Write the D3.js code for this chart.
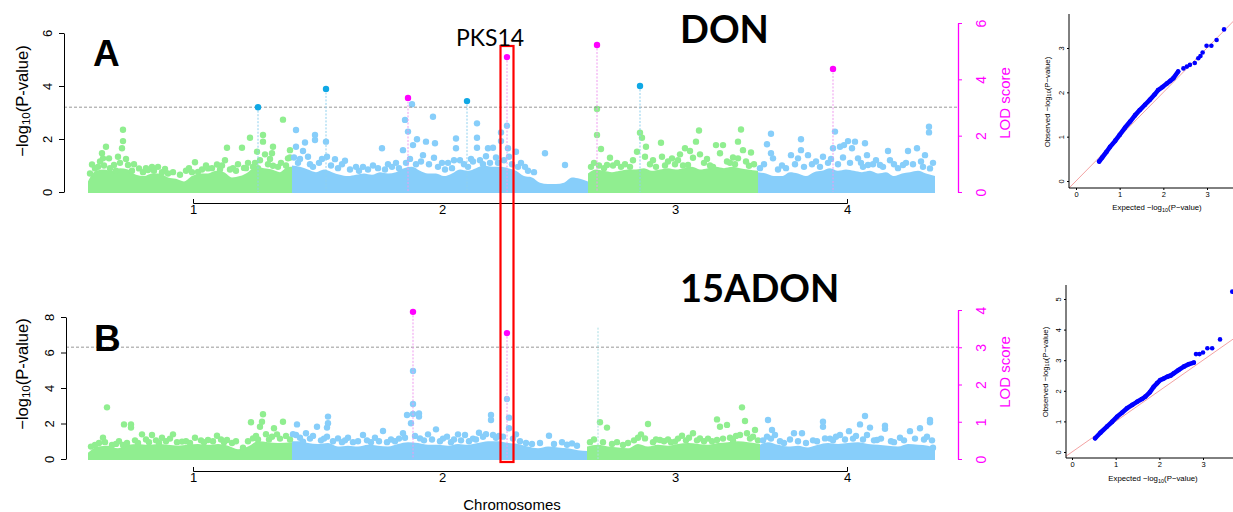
<!DOCTYPE html>
<html>
<head>
<meta charset="utf-8">
<script src="https://cdn.jsdelivr.net/npm/d3@7"></script>
<style>
  body { margin: 0; background: #fff; }
  svg { display: block; font-family: "Liberation Sans", Arial, sans-serif; }
</style>
</head>
<body>
<svg id="chart" width="1233" height="512"></svg>
<script>
// ---------- data ----------
var chromColors = ["#90EE90", "#87CEFA", "#90EE90", "#87CEFA"];
var chromEndA = [204, 500, 670, 847];
var chromEndB = [204, 499, 672, 847];
var chromTickPos = [105, 354, 587, 759];
var chromLabels = ["1", "2", "3", "4"];
var pksPos = 419;

// dense low-value cloud (upper edge), one list per chromosome: [position, -log10 p]
var envA = [
  [[0,0.4],[8,0.8],[16,0.85],[24,0.8],[32,0.9],[40,0.85],[48,0.65],[56,0.6],[64,0.7],[72,0.7],[80,0.55],[88,0.5],[96,0.4],[104,0.6],[112,0.7],[120,0.7],[128,0.8],[136,0.75],[144,0.55],[152,0.6],[160,0.75],[168,0.95],[176,0.9],[184,0.85],[192,0.75],[200,0.95],[204,0.95]],
  [[204,1.0],[212,0.95],[220,0.85],[228,0.75],[236,0.85],[244,0.75],[252,0.65],[260,0.6],[268,0.65],[276,0.7],[284,0.65],[292,0.75],[300,0.7],[308,0.75],[316,0.9],[324,0.95],[332,0.8],[340,0.7],[348,0.7],[356,0.6],[364,0.7],[372,0.85],[380,0.8],[388,0.9],[396,1.0],[404,0.95],[412,0.95],[420,0.9],[428,0.8],[436,0.6],[444,0.55],[452,0.35],[460,0.3],[468,0.3],[476,0.35],[484,0.55],[492,0.5],[500,0.4]],
  [[500,0.7],[508,0.85],[516,0.8],[524,0.75],[532,0.8],[540,0.85],[548,0.85],[556,0.9],[564,0.8],[572,0.85],[580,0.9],[588,0.85],[596,0.9],[604,0.95],[612,0.85],[620,0.9],[628,0.95],[636,0.9],[644,0.95],[652,0.9],[660,0.85],[670,0.8]],
  [[670,0.75],[678,0.7],[686,0.6],[694,0.6],[702,0.75],[710,0.7],[718,0.6],[726,0.75],[734,0.8],[742,0.9],[750,0.8],[758,0.85],[766,0.8],[774,0.75],[782,0.8],[790,0.7],[798,0.75],[806,0.6],[814,0.7],[822,0.75],[830,0.8],[838,0.7],[847,0.6]]
];
var envB = [
  [[0,0.35],[10,0.7],[20,0.75],[30,0.6],[40,0.8],[50,0.85],[60,0.8],[70,0.85],[80,0.8],[90,0.75],[100,0.8],[110,0.85],[120,0.8],[130,0.85],[140,0.75],[150,0.55],[160,0.7],[170,1.0],[180,0.95],[190,0.9],[204,0.95]],
  [[204,1.0],[212,1.0],[220,0.9],[230,0.85],[240,0.9],[250,0.7],[260,0.75],[270,0.7],[280,0.8],[290,0.75],[300,0.7],[310,0.85],[320,0.95],[330,0.9],[340,0.8],[350,0.8],[360,0.75],[370,0.85],[380,0.8],[390,0.9],[400,1.0],[410,1.0],[420,0.9],[430,0.85],[440,0.7],[450,0.6],[460,0.7],[470,0.65],[480,0.6],[490,0.5],[499,0.45]],
  [[499,0.7],[510,0.8],[520,0.7],[530,0.65],[540,0.6],[550,0.85],[560,0.7],[570,0.8],[580,0.75],[590,0.85],[600,0.9],[610,0.85],[620,0.8],[630,0.9],[640,0.95],[650,1.0],[660,0.95],[672,0.85]],
  [[672,0.8],[680,0.95],[690,0.8],[700,0.7],[710,0.75],[720,0.65],[730,0.8],[740,0.9],[750,0.85],[760,0.9],[770,0.95],[780,0.85],[790,0.8],[800,0.75],[810,0.7],[820,0.85],[830,0.8],[840,0.75],[847,0.6]]
];

// scattered SNPs above the cloud: [position, -log10 p]
var snpsA = [
  [4,1.04],[7,0.89],[12,1.15],[14,1.46],[15,1.27],[18,1.71],[21,1.27],[26,1.02],[30,1.33],[34,1.65],[35,1.92],[35,2.35],[38,1.25],[40,1.02],[51,0.89],[60,0.83],[64,0.95],[70,0.95],[77,0.87],[85,0.75],[107,1.12],[110,0.76],[120,0.89],[129,1.04],[137,1.2],[139,1.67],[145,0.9],[154,1.67],[156,0.91],[162,2.05],[165,0.95],[169,1.52],[172,1.2],[175,1.9],[175,2.15],[177,1.42],[184,1.46],[185,1.71],[185,0.99],[195,2.73],[200,1.27],[202,1.58],
  [2,0.7],[10,0.95],[16,1.0],[22,0.9],[28,0.8],[32,1.1],[44,0.8],[46,1.05],[55,0.75],[58,0.9],[66,0.8],[74,0.75],[80,0.7],[92,0.65],[98,0.8],[101,0.9],[104,0.75],[114,0.85],[118,1.0],[124,0.9],[132,0.85],[134,1.0],[142,0.85],[148,0.8],[150,1.05],[158,0.9],[160,1.1],[167,1.1],[170,0.9],[180,1.05],[182,1.25],[190,0.95],[193,1.1],[198,1.0],[202,1.3],
  [208,2.34],[208,1.71],[215,1.55],[217,1.87],[220,1.33],[227,1.96],[227,2.15],[238,1.9],[239,1.33],[247,1.24],[257,1.18],[275,0.95],[285,1.0],[294,1.65],[300,1.05],[315,1.58],[317,2.72],[320,2.28],[324,3.31],[325,1.77],[329,1.99],[335,1.39],[338,1.9],[345,2.84],[346,1.29],[347,1.84],[360,1.1],[368,1.65],[368,2.02],[372,1.2],[385,1.15],[389,1.67],[389,2.05],[389,2.59],[400,1.65],[405,1.67],[413,1.92],[413,2.25],[419,2.5],[420,1.65],[421,1.33],[428,1.52],[437,0.95],[457,1.46],[477,1.02],
  [206,1.3],[210,1.1],[212,1.25],[222,1.05],[225,0.95],[231,1.1],[234,1.25],[243,1.0],[250,0.9],[254,1.05],[262,0.85],[268,0.95],[271,0.8],[280,0.85],[290,0.9],[297,0.85],[304,0.95],[308,1.1],[311,0.9],[318,1.1],[322,1.25],[328,1.05],[333,1.15],[341,1.05],[350,0.95],[354,1.1],[357,0.85],[364,0.9],[366,1.2],[376,1.05],[380,0.95],[383,1.25],[392,1.2],[395,1.05],[398,1.35],[402,1.1],[408,1.3],[410,1.1],[416,1.2],[424,1.05],[430,0.95],[433,1.1],[440,0.8],[446,0.75],
  [509,3.13],[509,2.15],[513,1.62],[519,1.02],[522,1.29],[549,1.52],[552,2.24],[554,2.05],[557,1.33],[558,1.71],[573,1.86],[574,1.33],[584,1.27],[592,1.42],[597,1.65],[600,1.02],[602,1.55],[605,1.29],[608,1.9],[611,2.32],[612,1.42],[625,0.95],[628,1.77],[632,1.46],[635,1.77],[639,1.15],[650,1.9],[650,1.27],[653,2.36],[655,1.58],[661,0.99],[663,1.49],
  [503,0.95],[506,1.1],[511,1.0],[516,0.9],[525,1.0],[529,1.1],[533,0.95],[537,1.05],[542,0.95],[545,1.2],[562,1.05],[565,1.2],[568,0.95],[577,1.0],[580,1.15],[587,1.05],[590,1.2],[595,1.0],[616,1.1],[619,1.25],[622,1.0],[642,1.1],[645,1.3],[647,1.05],[658,1.15],[666,1.05],
  [679,1.8],[683,2.2],[683,1.46],[685,1.27],[703,1.39],[710,1.27],[713,1.99],[713,1.58],[720,1.39],[735,1.33],[745,1.65],[747,2.28],[752,1.71],[756,1.77],[760,1.92],[764,1.65],[767,1.9],[770,1.27],[777,1.84],[779,1.39],[780,1.02],[792,1.02],[800,1.55],[802,1.2],[815,1.02],[820,1.55],[829,1.65],[837,1.39],[841,2.25],[841,2.46],[842,0.89],
  [672,0.9],[676,1.05],[690,0.85],[694,1.0],[698,0.9],[707,1.05],[716,0.95],[724,1.05],[728,1.15],[732,0.95],[740,1.1],[743,1.25],[750,1.05],[755,1.3],[762,1.1],[773,1.1],[775,0.95],[785,1.05],[788,1.2],[795,0.95],[806,1.05],[810,0.9],[818,1.1],[825,1.05],[833,1.15],[835,0.95],[845,1.1]
];
var snpsB = [
  [7,0.79],[15,1.2],[19,2.91],[24,0.79],[35,0.79],[36,1.95],[43,1.95],[43,1.77],[54,1.39],[64,1.35],[74,1.2],[85,1.39],[94,0.98],[107,1.2],[120,1.07],[129,1.31],[139,1.07],[155,0.64],[163,2.07],[165,1.16],[172,1.82],[174,2.1],[175,2.52],[186,1.73],[189,1.39],[195,2.1],
  [3,0.7],[11,0.9],[17,0.95],[28,0.85],[31,1.0],[39,0.9],[47,1.05],[50,0.9],[58,1.1],[61,0.95],[68,1.05],[71,0.9],[78,1.0],[82,1.15],[89,0.95],[98,1.0],[102,0.9],[113,1.05],[116,0.95],[125,1.0],[133,1.1],[136,0.95],[144,0.9],[148,1.0],[160,1.0],[168,1.3],[170,1.1],[178,1.4],[181,1.1],[184,1.25],[192,1.15],[198,1.3],[202,1.1],
  [208,1.35],[209,1.95],[215,0.98],[218,1.45],[229,1.82],[239,1.26],[239,1.77],[240,2.01],[240,2.39],[250,1.16],[260,1.2],[275,1.35],[287,1.2],[295,1.58],[315,1.45],[319,2.48],[323,2.01],[325,2.54],[325,3.1],[325,4.96],[331,2.56],[331,2.39],[332,1.16],[340,1.39],[348,1.67],[359,1.26],[370,1.39],[377,1.35],[391,1.48],[403,2.48],[403,2.2],[405,1.35],[415,1.26],[419,3.38],[421,2.33],[421,1.73],[428,1.39],[461,1.31],[474,0.94],[484,0.88],
  [205,1.4],[212,1.2],[222,1.15],[225,1.3],[233,1.05],[236,1.15],[245,1.0],[254,0.95],[257,1.05],[265,0.95],[270,1.0],[279,1.05],[283,0.95],[291,1.0],[299,0.95],[303,1.1],[307,1.0],[311,1.15],[317,1.2],[327,1.3],[336,1.05],[344,1.1],[352,1.0],[355,1.15],[363,0.95],[366,1.1],[373,1.05],[381,1.0],[385,1.15],[388,1.1],[395,1.25],[398,1.4],[408,1.2],[411,1.3],[425,1.15],[432,1.0],[438,0.9],[444,0.85],[452,0.9],[466,0.85],[479,0.8],[489,0.75],
  [512,2.07],[519,1.77],[535,0.79],[553,1.39],[557,1.16],[560,1.97],[572,1.07],[587,0.98],[594,1.31],[605,1.45],[612,1.16],[629,1.07],[629,2.23],[632,1.82],[639,1.92],[652,1.35],[654,2.91],[657,2.14],[659,1.45],[667,1.63],
  [502,0.95],[506,1.1],[515,0.95],[524,0.85],[529,0.95],[540,0.9],[546,1.05],[550,1.2],[565,0.95],[568,1.1],[576,1.0],[580,1.1],[583,0.95],[590,1.15],[598,1.05],[601,1.2],[609,1.05],[616,1.0],[620,1.15],[624,1.0],[635,1.15],[642,1.2],[645,1.05],[648,1.3],[662,1.15],[665,1.25],[670,1.05],
  [679,1.26],[680,2.2],[684,1.63],[687,1.35],[706,1.45],[714,1.45],[735,1.82],[735,2.1],[737,1.16],[752,1.35],[761,1.57],[772,1.95],[777,2.42],[779,1.35],[782,1.77],[789,1.07],[797,1.7],[797,1.88],[812,1.2],[822,1.57],[832,1.73],[842,2.07],[842,2.2],[845,0.64],
  [675,1.05],[683,1.15],[692,1.0],[696,0.9],[702,1.1],[710,1.0],[718,0.9],[725,1.05],[729,1.0],[742,1.15],[745,1.05],[748,1.25],[757,1.1],[765,1.15],[768,1.3],[775,1.1],[786,1.05],[793,1.15],[803,1.0],[806,0.95],[816,1.05],[827,1.15],[836,1.1],[839,1.25],[844,1.05]
];

// significant GWAS SNPs (-log10 p) and QTL LOD peaks
var gwasPosA = [170, 238, 379, 552];
var gwasValA = [3.2, 3.89, 3.43, 4.0];
var lodPosA = [320, 419, 509, 745];
var lodValA = [3.34, 4.79, 5.22, 4.37];
var lodPosB = [325, 419];
var lodValB = [3.95, 3.38];
var faintPosB = [510];
var faintValB = [7.4];
var threshA = 3.2;
var threshB = 6.3;

// QQ plots
var qqExpA = [0.53,0.6,0.7,0.78,0.9,1.0,1.12,1.24,1.35,1.46,1.58,1.69,1.8,1.88,1.98,2.08,2.16,2.23,2.34,2.46,2.54,2.61,2.72,2.8,2.85,2.9,2.99,3.1,3.22,3.39];
var qqObsA = [0.44,0.53,0.66,0.77,0.91,1.04,1.2,1.34,1.48,1.6,1.72,1.83,1.95,2.05,2.12,2.2,2.26,2.32,2.47,2.54,2.58,2.62,2.66,2.77,2.82,2.9,3.05,3.05,3.18,3.42];
var qqExpB = [0.53,0.65,0.8,0.92,1.03,1.15,1.26,1.38,1.49,1.6,1.68,1.78,1.87,1.95,2.02,2.1,2.18,2.26,2.33,2.44,2.56,2.67,2.79,2.84,2.92,3.0,3.1,3.21,3.39,3.67];
var qqObsB = [0.45,0.63,0.83,0.99,1.15,1.29,1.43,1.54,1.64,1.73,1.81,1.95,2.13,2.25,2.35,2.4,2.46,2.5,2.57,2.68,2.79,2.87,2.92,3.2,3.2,3.25,3.39,3.39,3.68,5.24];

// ---------- drawing ----------
var svg = d3.select("#chart");
var fontSans = '"Liberation Sans", Arial, sans-serif';
var magenta = "#FF00FF";
var r = 3.2;
var intFmt = d3.format("d");

var x = d3.scaleLinear().domain([0, 850]).range([88, 938]);

function chromIndex(pos, ends) {
  for (var i = 0; i < ends.length; i++) if (pos < ends[i]) return i;
  return ends.length - 1;
}

function rotateTicks(axisG, offset, size) {
  axisG.selectAll(".tick text")
    .attr("transform", "rotate(-90)")
    .attr("x", 0)
    .attr("y", offset)
    .attr("dy", 0)
    .attr("text-anchor", "middle")
    .style("font-size", size + "px");
}

function yTitle(g, cx, cy, size, before, after, fill) {
  var t = g.append("text")
    .attr("transform", `translate(${cx},${cy}) rotate(-90)`)
    .attr("text-anchor", "middle")
    .attr("dominant-baseline", "central")
    .attr("font-size", size)
    .attr("fill", fill || "#000");
  t.append("tspan").text(before);
  if (after !== undefined) {
    t.append("tspan").attr("font-size", size * 0.7).attr("dy", size * 0.25).text("10");
    t.append("tspan").attr("dy", -size * 0.25).text(after);
  }
  return t;
}

function drawManhattan(p) {
  var g = svg.append("g");
  var y = d3.scaleLinear().domain([0, p.yMax]).range([p.yBase, p.yTop]);
  var lod = d3.scaleLinear().domain([0, p.lodMax]).range([p.yBase, p.lodTop]);

  // dense cloud near zero
  var area = d3.area()
    .x(d => x(d[0]))
    .y0(y(0) + 1)
    .y1(d => y(d[1]))
    .curve(d3.curveMonotoneX);
  p.env.forEach(function(seg, i) {
    g.append("path").datum(seg).attr("d", area).attr("fill", chromColors[i]);
  });

  // scattered SNPs
  g.selectAll("circle.snp")
    .data(p.snps)
    .enter().append("circle")
    .attr("class", "snp")
    .attr("cx", d => x(d[0]))
    .attr("cy", d => y(d[1]))
    .attr("r", r)
    .attr("fill", d => chromColors[chromIndex(d[0], p.ends)]);

  // threshold
  g.append("line")
    .attr("x1", p.axisX).attr("x2", 958)
    .attr("y1", y(p.thresh)).attr("y2", y(p.thresh))
    .attr("stroke", "#8c8c8c").attr("stroke-width", 0.9)
    .attr("stroke-dasharray", "3,2");

  // faint stems
  p.faintPos.forEach(function(pos, i) {
    g.append("line")
      .attr("x1", x(pos)).attr("x2", x(pos))
      .attr("y1", y(p.faintVal[i])).attr("y2", y(0))
      .attr("stroke", "#a9dde3").attr("stroke-width", 1)
      .attr("stroke-dasharray", "2,1.5");
  });

  // GWAS peaks
  p.gwasPos.forEach(function(pos, i) {
    g.append("line")
      .attr("x1", x(pos)).attr("x2", x(pos))
      .attr("y1", y(p.gwasVal[i])).attr("y2", y(0))
      .attr("stroke", "#8fd0ee").attr("stroke-width", 1)
      .attr("stroke-dasharray", "2,1.5");
    g.append("circle")
      .attr("cx", x(pos)).attr("cy", y(p.gwasVal[i])).attr("r", r)
      .attr("fill", "#0FA8E5");
  });

  // LOD peaks
  p.lodPos.forEach(function(pos, i) {
    g.append("line")
      .attr("x1", x(pos)).attr("x2", x(pos))
      .attr("y1", lod(p.lodVal[i])).attr("y2", y(0))
      .attr("stroke", "#ef9bef").attr("stroke-width", 1)
      .attr("stroke-dasharray", "2,1.5");
    g.append("circle")
      .attr("cx", x(pos)).attr("cy", lod(p.lodVal[i])).attr("r", r)
      .attr("fill", magenta);
  });

  // left axis
  var ya = g.append("g")
    .attr("transform", `translate(${p.axisX},0)`)
    .attr("font-family", fontSans)
    .call(d3.axisLeft(y).tickValues(p.yTicks).tickFormat(intFmt).tickSize(5).tickSizeOuter(0));
  rotateTicks(ya, -12, 13);
  yTitle(g, 22, p.titleY, 16.5, "\u2212log", "(P-value)");

  // LOD axis
  var la = g.append("g")
    .attr("transform", "translate(958,0)")
    .attr("font-family", fontSans)
    .call(d3.axisRight(lod).tickValues(p.lodTicks).tickFormat(intFmt).tickSize(4).tickSizeOuter(0));
  la.select(".domain").attr("stroke", magenta).attr("stroke-width", 1.3);
  la.selectAll(".tick line").attr("stroke", magenta);
  la.selectAll(".tick text").attr("fill", magenta);
  rotateTicks(la, 28, 14);
  yTitle(g, 1004, p.lodTitleY, 15, "LOD score", undefined, magenta);

  // chromosome axis
  var xc = d3.scaleLinear()
    .domain([chromTickPos[0], chromTickPos[chromTickPos.length - 1]])
    .range([x(chromTickPos[0]), x(chromTickPos[chromTickPos.length - 1])]);
  var xa = g.append("g")
    .attr("transform", `translate(0,${p.xAxisY})`)
    .attr("font-family", fontSans)
    .call(d3.axisBottom(xc).tickValues(chromTickPos)
      .tickFormat((d, i) => chromLabels[i])
      .tickSizeInner(0).tickSizeOuter(-4).tickPadding(2));
  xa.selectAll(".tick text").style("font-size", "13px");

  // panel letter and trait title
  g.append("text").attr("x", p.letterX).attr("y", p.letterY)
    .attr("font-family", fontSans).attr("font-weight", "bold")
    .attr("font-size", 37).text(p.letter);
  g.append("text").attr("x", 680).attr("y", p.traitY)
    .attr("font-family", "Lato, 'Open Sans', sans-serif").attr("font-weight", "bold")
    .attr("font-size", 38).text(p.trait);
}

drawManhattan({
  yBase: 192, yTop: 33, yMax: 6, yTicks: [0, 2, 4, 6],
  lodTop: 23, lodMax: 6, lodTicks: [0, 2, 4, 6],
  axisX: 64, xAxisY: 203, thresh: threshA,
  env: envA, snps: snpsA, ends: chromEndA,
  gwasPos: gwasPosA, gwasVal: gwasValA,
  lodPos: lodPosA, lodVal: lodValA,
  faintPos: [], faintVal: [],
  titleY: 101, lodTitleY: 103,
  letter: "A", letterX: 93, letterY: 66, trait: "DON", traitY: 43
});

drawManhattan({
  yBase: 459, yTop: 317, yMax: 8, yTicks: [0, 2, 4, 6, 8],
  lodTop: 310, lodMax: 4, lodTicks: [0, 1, 2, 3, 4],
  axisX: 66, xAxisY: 471, thresh: threshB,
  env: envB, snps: snpsB, ends: chromEndB,
  gwasPos: [], gwasVal: [],
  lodPos: lodPosB, lodVal: lodValB,
  faintPos: faintPosB, faintVal: faintValB,
  titleY: 374, lodTitleY: 372,
  letter: "B", letterX: 94, letterY: 351, trait: "15ADON", traitY: 302
});

svg.append("text").attr("x", 512).attr("y", 510)
  .attr("text-anchor", "middle").attr("font-size", 15)
  .text("Chromosomes");

// PKS14 box
svg.append("rect")
  .attr("x", x(pksPos - 6.5)).attr("y", 46)
  .attr("width", x(pksPos + 6.5) - x(pksPos - 6.5)).attr("height", 416)
  .attr("fill", "none").attr("stroke", "#FF0000").attr("stroke-width", 2.2);
svg.append("text").attr("x", 456).attr("y", 46)
  .attr("font-family", "Lato, 'Open Sans', sans-serif")
  .attr("font-size", 23).text("PKS14");

// ---------- QQ plots ----------
function drawQQ(q) {
  var g = svg.append("g");
  var qx = d3.scaleLinear().domain([0, 3]).range(q.xRange);
  var qy = d3.scaleLinear().domain([0, q.yTicks[q.yTicks.length - 1]]).range(q.yRange);
  var clipId = "clip" + q.id;
  g.append("clipPath").attr("id", clipId).append("rect")
    .attr("x", q.left).attr("y", q.top).attr("width", 1240 - q.left).attr("height", q.bottom - q.top);

  var diag = [-0.3, 6];
  g.append("line")
    .attr("clip-path", `url(#${clipId})`)
    .attr("x1", qx(diag[0])).attr("y1", qy(diag[0]))
    .attr("x2", qx(diag[1])).attr("y2", qy(diag[1]))
    .attr("stroke", "#f08a8a").attr("stroke-width", 0.8);

  var pts = q.exp.map((e, i) => [e, q.obs[i]]);
  var dense = pts.filter(d => d[0] <= q.denseTo);
  g.append("path").datum(dense)
    .attr("d", d3.line().x(d => qx(d[0])).y(d => qy(d[1])))
    .attr("fill", "none").attr("stroke", "#0000FF")
    .attr("stroke-width", 4.6).attr("stroke-linecap", "round").attr("stroke-linejoin", "round");
  g.selectAll("circle").data(pts).enter().append("circle")
    .attr("cx", d => qx(d[0])).attr("cy", d => qy(d[1]))
    .attr("r", 2.3).attr("fill", "#0000FF");

  g.append("line").attr("x1", q.left).attr("x2", q.left).attr("y1", q.top).attr("y2", q.bottom)
    .attr("stroke", "#000").attr("stroke-width", 1);
  g.append("line").attr("x1", q.left).attr("x2", 1240).attr("y1", q.bottom).attr("y2", q.bottom)
    .attr("stroke", "#000").attr("stroke-width", 1);

  var xa = g.append("g").attr("transform", `translate(0,${q.bottom})`)
    .attr("font-family", fontSans)
    .call(d3.axisBottom(qx).tickValues([0, 1, 2, 3]).tickFormat(intFmt).tickSize(2).tickPadding(2));
  xa.select(".domain").remove();
  xa.selectAll(".tick text").style("font-size", "7.5px");

  var ya = g.append("g").attr("transform", `translate(${q.left},0)`)
    .attr("font-family", fontSans)
    .call(d3.axisLeft(qy).tickValues(q.yTicks).tickFormat(intFmt).tickSize(2));
  ya.select(".domain").remove();
  rotateTicks(ya, -5, 7.5);

  g.append("text").attr("x", q.xTitleX).attr("y", q.xTitleY)
    .attr("text-anchor", "middle").attr("font-size", 7.8)
    .call(function(t) {
      t.append("tspan").text("Expected \u2212log");
      t.append("tspan").attr("font-size", 5.5).attr("dy", 2).text("10");
      t.append("tspan").attr("dy", -2).text("(P\u2212value)");
    });
  yTitle(g, q.yTitleX, q.yTitleY, 7.8, "Observed \u2212log", "(P\u2212value)");
}

drawQQ({
  id: "A", xRange: [1076, 1207], yRange: [181, 48], yTicks: [0, 1, 2, 3],
  left: 1069, top: 14, bottom: 188, exp: qqExpA, obs: qqObsA, denseTo: 2.35,
  xTitleX: 1157, xTitleY: 210, yTitleX: 1047, yTitleY: 102
});
drawQQ({
  id: "B", xRange: [1072, 1203], yRange: [452, 299], yTicks: [0, 1, 2, 3, 4, 5],
  left: 1066, top: 285, bottom: 458, exp: qqExpB, obs: qqObsB, denseTo: 2.8,
  xTitleX: 1153, xTitleY: 481, yTitleX: 1045, yTitleY: 372
});
</script>
</body>
</html>
